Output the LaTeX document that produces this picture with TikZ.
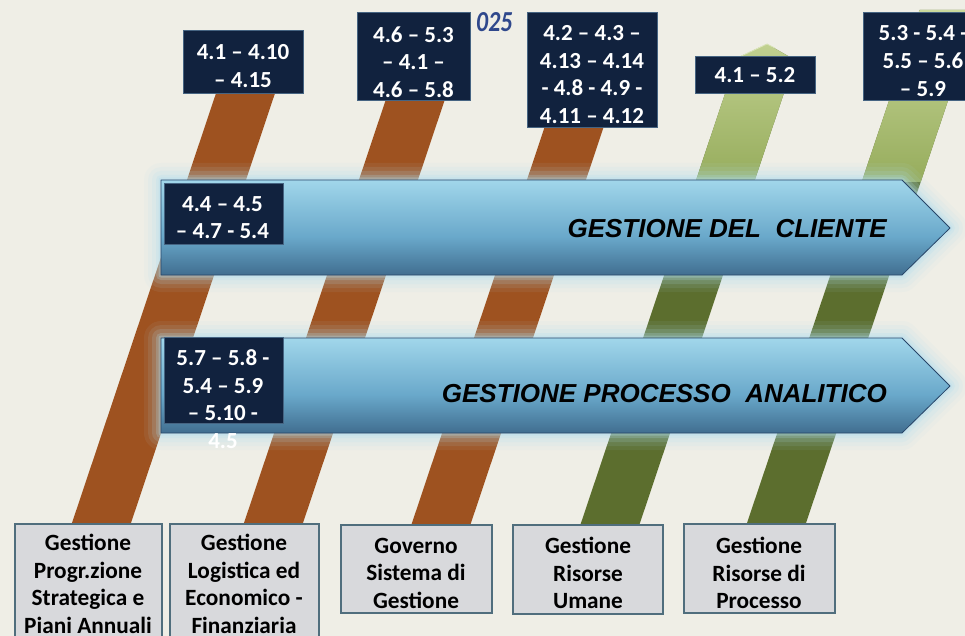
\documentclass[tikz,border=0pt]{standalone}
\usepackage{fontspec}
\setmainfont{Carlito}
\newfontfamily\arialfont{Liberation Sans}
\definecolor{bgc}{RGB}{239,238,230}
\definecolor{brownc}{RGB}{158,82,32}
\definecolor{olivec}{RGB}{92,110,46}
\definecolor{lgTop}{RGB}{206,220,160}
\definecolor{lgBot}{RGB}{150,172,92}
\definecolor{navyc}{RGB}{17,34,62}
\definecolor{navyedge}{RGB}{70,100,130}
\definecolor{grayc}{RGB}{216,217,220}
\definecolor{grayedge}{RGB}{80,110,125}
\definecolor{arL}{RGB}{170,222,240}
\definecolor{arM}{RGB}{105,168,202}
\definecolor{arD2}{RGB}{38,72,106}
\definecolor{arD}{RGB}{22,42,70}
\definecolor{arEdge}{RGB}{40,70,105}
\definecolor{glowc}{RGB}{175,222,240}
\definecolor{yearc}{RGB}{47,72,140}
\pgfdeclareverticalshading{arrsh}{100bp}{color(0bp)=(arD); color(12bp)=(arD2); color(45bp)=(arM); color(80bp)=(arL); color(100bp)=(arL)}
\begin{document}
\begin{tikzpicture}[x=1pt,y=-1pt,
  navybox/.style={fill=navyc, draw=navyedge, line width=0.8pt, inner sep=0pt},
  graybox/.style={fill=grayc, draw=grayedge, line width=1.3pt, inner sep=0pt},
  wtext/.style={text=white, align=center, inner sep=0pt, font=\bfseries\fontsize{23}{27.7}\selectfont},
  btext/.style={text=black, align=center, inner sep=0pt, font=\bfseries\fontsize{23.3}{27.5}\selectfont},
  arrtext/.style={text=black, inner sep=0pt, anchor=base east, font=\arialfont\bfseries\itshape\fontsize{26}{30}\selectfont},
  arrowbody/.style={shading=arrsh},
  arrowline/.style={draw=arEdge, line width=0.8pt, line join=round}]
\useasboundingbox (0,0) rectangle (965,636);
\clip (0,0) rectangle (965,636);
\fill[bgc] (0,0) rectangle (965,636);
% bands
\def\bandA{(64.6,545) -- (123.6,545) -- (289.5,50) -- (230.5,50) -- cycle}
\def\bandB{(236.6,545) -- (295.6,545) -- (464.8,40) -- (405.8,40) -- cycle}
\def\bandC{(404.6,545) -- (463.6,545) -- (632.8,40) -- (573.8,40) -- cycle}
\def\bandD{(573.6,545) -- (632.6,545) -- (795,60) -- (767,44) -- (737,58) -- cycle}
\def\bandE{(739.6,545) -- (798.6,545) -- (978.5,10) -- (919.5,10) -- cycle}
\fill[brownc] \bandA;
\fill[brownc] \bandB;
\fill[brownc] \bandC;
\fill[olivec] \bandD;
\fill[olivec] \bandE;
\begin{scope}
  \clip \bandD;
  \shade[top color=lgTop, bottom color=lgBot] (560,0) rectangle (965,182);
\end{scope}
\begin{scope}
  \clip \bandE;
  \shade[top color=lgTop, bottom color=lgBot] (560,0) rectangle (965,182);
\end{scope}
\draw[lgTop!70!white, line width=0.8pt, line join=round] (737,58) -- (767,44) -- (775,48);
% arrows
\def\arrowA{(161,180) -- (902,180) -- (950,228) -- (902,275) -- (161,275) -- cycle}
\def\arrowB{(161,338) -- (902,338) -- (950,386) -- (902,433) -- (161,433) -- cycle}
\foreach \w/\o in {34/0.07,26/0.1,18/0.15,10/0.22,5/0.3} {
  \draw[glowc, line width=\w, opacity=\o, line join=round] \arrowA;
  \draw[glowc, line width=\w, opacity=\o, line join=round] \arrowB;
}
\shade[arrowbody] \arrowA;
\draw[arrowline] \arrowA;
\shade[arrowbody] \arrowB;
\draw[arrowline] \arrowB;
\node[arrtext] (cliente) at (887,237) {GESTIONE DEL~~CLIENTE};
\node[arrtext] (analitico) at (887,402) {GESTIONE PROCESSO~~ANALITICO};
% label boxes inside arrows
\node[navybox, minimum width=119, minimum height=61] (la) at (223.5,213.5) {};
\node[wtext] (lat) at (222.5,217.5) {4.4 – 4.5\\– 4.7 - 5.4};
\node[navybox, minimum width=119, minimum height=86] (lb) at (223.5,380) {};
\node[wtext] (lbt) at (223,399) {5.7 – 5.8 -\\5.4 – 5.9\\– 5.10 -\\4.5};
% top boxes
\node[text=yearc, inner sep=0pt, anchor=base west, font=\bfseries\itshape\fontsize{29}{30}\selectfont] (year) at (476,32) {\scalebox{0.82}[1]{025}};
\node[navybox, minimum width=120, minimum height=63] (t1) at (243,61.5) {};
\node[wtext] (t1t) at (243,66) {4.1 – 4.10\\– 4.15};
\node[navybox, minimum width=113, minimum height=88] (t2) at (413.5,56) {};
\node[wtext] (t2t) at (413.5,62) {4.6 – 5.3\\– 4.1 –\\4.6 – 5.8};
\node[navybox, minimum width=130, minimum height=115] (t3) at (592,69.5) {};
\node[wtext] (t3t) at (592,74.5) {4.2 – 4.3 –\\4.13 – 4.14\\- 4.8 - 4.9 -\\4.11 – 4.12};
\node[navybox, minimum width=120, minimum height=37] (t4) at (755,74.5) {};
\node[wtext] (t4t) at (755,75) {4.1 – 5.2};
\node[navybox, minimum width=122, minimum height=88] (t5) at (924,56) {};
\node[wtext] (t5t) at (923,61) {5.3 - 5.4 -\\5.5 – 5.6\\– 5.9};
% bottom boxes
\node[graybox, minimum width=147, minimum height=126] (b1) at (88.5,587) {};
\node[btext] (b1t) at (88,584) {Gestione\\Progr.zione\\Strategica e\\Piani Annuali};
\node[graybox, minimum width=149, minimum height=126] (b2) at (244.5,587) {};
\node[btext] (b2t) at (244,584) {Gestione\\Logistica ed\\Economico -\\Finanziaria};
\node[graybox, minimum width=151, minimum height=88] (b3) at (416.5,569) {};
\node[btext] (b3t) at (416,573) {Governo\\Sistema di\\Gestione};
\node[graybox, minimum width=150, minimum height=89] (b4) at (588,569.5) {};
\node[btext] (b4t) at (588,573) {Gestione\\Risorse\\Umane};
\node[graybox, minimum width=151, minimum height=89] (b5) at (759.5,568.5) {};
\node[btext] (b5t) at (759,573) {Gestione\\Risorse di\\Processo};
\end{tikzpicture}
\end{document}
